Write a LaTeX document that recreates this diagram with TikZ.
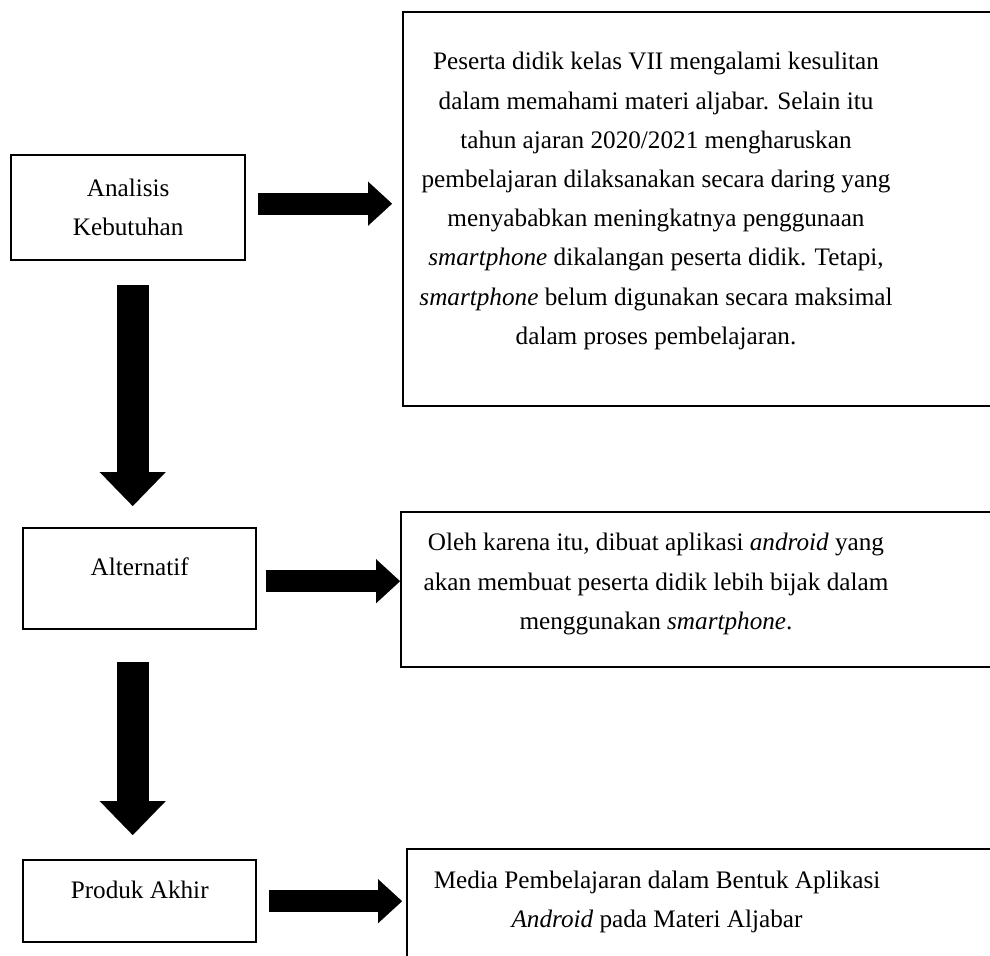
\documentclass[tikz,border=0pt]{standalone}
\usepackage{fontspec}
\setmainfont{Liberation Serif}
\usetikzlibrary{positioning, arrows.meta, calc}

\begin{document}
\begin{tikzpicture}[
    x=0.5pt, y=-0.5pt,
    font=\fontsize{12.6pt}{19.6pt}\selectfont,
    stepbox/.style={draw=black, line width=1.2pt, align=center, inner sep=0pt, anchor=north west},
    infobox/.style={draw=black, line width=1.2pt, anchor=north west, minimum width=310pt},
    infotext/.style={align=center, inner sep=0pt},
    hbar/.style={line width=11pt, -{Triangle[length=12pt, width=22pt, line width=0.01pt]}},
    vbar/.style={line width=16pt, -{Triangle[length=17pt, width=33pt, line width=0.01pt]}}
]
\useasboundingbox (0,0) rectangle (990,955);
\clip (0,0) rectangle (990,955);

%% ============================================================
%% LEFT COLUMN: STEPS
%% ============================================================
\node[stepbox, minimum width=117pt, minimum height=52.5pt] (kebutuhan) at (10,154) {Analisis\\Kebutuhan};
\node[stepbox, minimum width=116.5pt, minimum height=50.5pt, text depth=12pt] (alternatif) at (22,527) {Alternatif};
\node[stepbox, minimum width=116.5pt, minimum height=41pt, text depth=11pt] (produk) at (22,859) {Produk Akhir};

%% ============================================================
%% RIGHT COLUMN: DESCRIPTIONS
%% ============================================================
\node[infobox, minimum height=197pt] (masalah) at (402,11) {};
\node[infotext] (masalahtext) at (656,201) {
    Peserta didik kelas VII mengalami kesulitan\\
    dalam memahami materi aljabar. Selain itu\\
    tahun ajaran 2020/2021 mengharuskan\\
    pembelajaran dilaksanakan secara daring yang\\
    menyababkan meningkatnya penggunaan\\
    \textit{smartphone} dikalangan peserta didik. Tetapi,\\
    \textit{smartphone} belum digunakan secara maksimal\\
    dalam proses pembelajaran.
};

\node[infobox, minimum height=77.5pt] (solusi) at (400,511) {};
\node[infotext] (solusitext) at (656,584) {
    Oleh karena itu, dibuat aplikasi \textit{android} yang\\
    akan membuat peserta didik lebih bijak dalam\\
    menggunakan \textit{smartphone}.
};

\node[infobox, minimum height=70pt] (hasil) at (406,848) {};
\node[infotext] (hasiltext) at (657,902) {
    Media Pembelajaran dalam Bentuk Aplikasi\\
    \textit{Android} pada Materi Aljabar
};

%% --- Block arrows ---
\draw[hbar, shorten <=6pt, shorten >=5pt] ([yshift=2pt]kebutuhan.east) -- ([yshift=2pt]kebutuhan.east -| masalah.west);
\draw[hbar, shorten <=4.5pt] ([yshift=-1.25pt]alternatif.east) -- ([yshift=-1.25pt]alternatif.east -| solusi.west);
\draw[hbar, shorten <=6pt, shorten >=2pt] (produk.east) -- (produk.east -| hasil.west);

\draw[vbar, shorten <=12pt, shorten >=10.5pt] ([xshift=2.25pt]kebutuhan.south) -- ([xshift=2.25pt]kebutuhan.south |- alternatif.north);
\draw[vbar, shorten <=16pt, shorten >=12pt] ([xshift=-3.5pt]alternatif.south) -- ([xshift=-3.5pt]alternatif.south |- produk.north);

\end{tikzpicture}
\end{document}
